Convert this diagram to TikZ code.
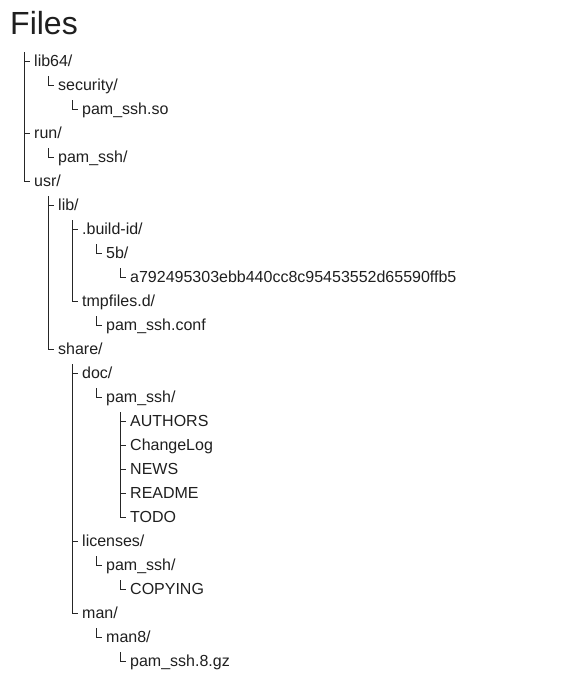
\documentclass[tikz,border=0pt]{standalone}
\usepackage{fontspec}
\setmainfont{Liberation Sans}
\begin{document}
\begin{tikzpicture}[x=1pt,y=-1pt,
  entry/.style={anchor=base west,inner sep=0pt,text height=11.5pt,text depth=0pt,
                font=\fontsize{16}{19}\selectfont,text=black!88},
  branch/.style={draw=black!85,line width=1pt}]

  \useasboundingbox (0,0) rectangle (585,689);

  \def\dx{24}
  \def\dy{24}

	%title
  \node[anchor=base west,inner sep=0pt,font=\fontsize{32}{38}\selectfont,text=black!88] (title) at (10,34) {Files};
  \coordinate (root-t) at (24,52);

	%draw tree
    \foreach \i/\lvl/\name/\parent/\txt in {0/0/lib64/root/{lib64/}, 1/1/security/lib64/{security/}, 2/2/pamso/security/{pam\_ssh.so},
        3/0/run/root/{run/}, 4/1/runpam/run/{pam\_ssh/},
        5/0/usr/root/{usr/}, 6/1/lib/usr/{lib/}, 7/2/buildid/lib/{.build-id/}, 8/3/fiveb/buildid/{5b/},
        9/4/hash/fiveb/{a792495303ebb440cc8c95453552d65590ffb5}, 10/2/tmpfiles/lib/{tmpfiles.d/}, 11/3/conf/tmpfiles/{pam\_ssh.conf},
        12/1/share/usr/{share/}, 13/2/doc/share/{doc/}, 14/3/docpam/doc/{pam\_ssh/},
        15/4/authors/docpam/{AUTHORS}, 16/4/changelog/docpam/{ChangeLog}, 17/4/news/docpam/{NEWS}, 18/4/readme/docpam/{README}, 19/4/todo/docpam/{TODO},
        20/2/licenses/share/{licenses/}, 21/3/licpam/licenses/{pam\_ssh/}, 22/4/copying/licpam/{COPYING},
        23/2/man/share/{man/}, 24/3/maneight/man/{man8/}, 25/4/manpage/maneight/{pam\_ssh.8.gz}}{
        \node[entry] (\name) at (34+\lvl*\dx, 61+\i*\dy+5.75) {\txt};
        \coordinate (\name-t) at ([xshift=14pt,yshift=-15pt]\name.west);
        \draw[branch] (\parent-t) |- ([xshift=-4pt]\name.west);
    }

\end{tikzpicture}
\end{document}
